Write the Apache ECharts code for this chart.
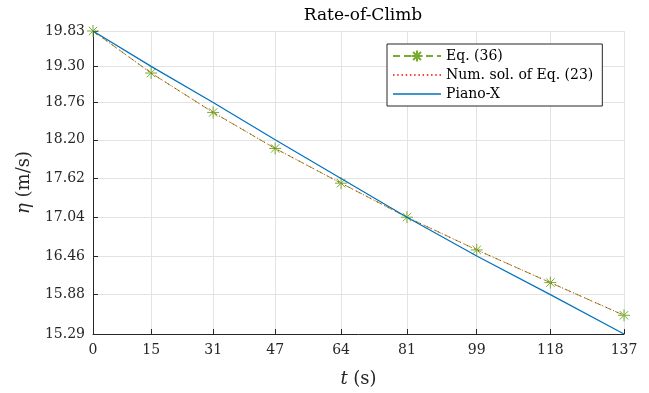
<!DOCTYPE html>
<html>
<head>
<meta charset="utf-8">
<script src="https://cdn.jsdelivr.net/npm/echarts@6/dist/echarts.min.js"></script>
<style>
  html, body { margin: 0; padding: 0; background: #fff; }
  #chart { width: 649px; height: 393px; }
</style>
</head>
<body>
<div id="chart"></div>
<script>
// time samples (s), also used as x ticks
const times = [0, 15, 31, 47, 64, 81, 99, 118, 137];
// y ticks (m/s)
const yTicks = [15.29, 15.88, 16.46, 17.04, 17.62, 18.20, 18.76, 19.30, 19.83];
// Eq. (36)
const eq36 = [19.83, 19.20, 18.61, 18.07, 17.55, 17.04, 16.55, 16.06, 15.57];
// numerical solution of Eq. (23)
const numSol = [19.83, 19.20, 18.61, 18.07, 17.55, 17.04, 16.55, 16.06, 15.57];
// Piano-X
const pianoX = [19.83, 19.30, 18.76, 18.20, 17.62, 17.04, 16.46, 15.88, 15.29];

const pairs = (ys) => times.map((t, i) => [t, ys[i]]);

// asterisk marker like matlab's '*'
const star = "path://M0,-10 L0,10 M-10,0 L10,0 M-7,-7 L7,7 M-7,7 L7,-7";
// legend icons drawn as thin filled paths (aspect kept)
let dots = "";
for (let x = 0; x < 48; x += 4) dots += `M${x},0h1.4v1.4h-1.4z `;
const dotIcon = "path://" + dots;
const solidIcon = "path://M0,0h48v1.3h-48z";
const serif = "DejaVu Serif";
const italic = { fontFamily: serif, fontStyle: "italic", fontSize: 18, color: "#262626" };

const chart = echarts.init(document.getElementById("chart"));

chart.setOption({
  animation: false,
  backgroundColor: "#fff",
  textStyle: { fontFamily: serif },
  title: {
    text: "Rate-of-Climb",
    left: 358,
    textAlign: "center",
    top: 2,
    textStyle: { fontFamily: serif, fontSize: 17, fontWeight: "normal", color: "#000" }
  },
  grid: { left: 93, right: 25, top: 31, bottom: 57 },
  legend: {
    orient: "vertical",
    left: 387,
    top: 44,
    padding: [5, 9, 5, 5],
    itemGap: 5,
    itemWidth: 48,
    itemHeight: 14,
    symbolKeepAspect: true,
    borderColor: "#262626",
    borderWidth: 1,
    borderRadius: 0,
    backgroundColor: "#fff",
    textStyle: { fontFamily: serif, fontSize: 14, color: "#000" },
    data: [
      { name: "Eq. (36)" },
      { name: "Num. sol. of Eq. (23)", icon: dotIcon, itemStyle: { color: "#FF0000" } },
      { name: "Piano-X", icon: solidIcon, itemStyle: { color: "#0072BD" } }
    ]
  },
  xAxis: {
    type: "value",
    min: 0,
    max: 137,
    name: "{i|t} (s)",
    nameLocation: "middle",
    nameGap: 36,
    nameTextStyle: { fontFamily: serif, fontSize: 18, color: "#262626", rich: { i: italic } },
    axisLine: { show: true, lineStyle: { color: "#262626", width: 1 } },
    axisTick: { show: true, inside: true, length: 5, customValues: times, lineStyle: { color: "#262626" } },
    axisLabel: { customValues: times, color: "#262626", fontSize: 14, fontFamily: serif, margin: 9 },
    splitLine: { show: true, lineStyle: { color: "#e3e3e3", width: 1 } }
  },
  yAxis: {
    type: "value",
    min: 15.29,
    max: 19.83,
    name: "{i|η} (m/s)",
    nameLocation: "middle",
    nameGap: 60,
    nameRotate: 90,
    nameTextStyle: { fontFamily: serif, fontSize: 18, color: "#262626", rich: { i: italic } },
    axisLine: { show: true, lineStyle: { color: "#262626", width: 1 } },
    axisTick: { show: true, inside: true, length: 5, customValues: yTicks, lineStyle: { color: "#262626" } },
    axisLabel: {
      customValues: yTicks,
      color: "#262626",
      fontSize: 14,
      fontFamily: serif,
      margin: 8,
      formatter: (v) => v.toFixed(2)
    },
    splitLine: { show: true, lineStyle: { color: "#e3e3e3", width: 1 } }
  },
  series: [
    {
      name: "Eq. (36)",
      type: "line",
      data: pairs(eq36),
      symbol: star,
      symbolSize: 12,
      itemStyle: { color: "#77AC30", borderColor: "#77AC30", borderWidth: 1 },
      lineStyle: { color: "#77AC30", width: 1, type: [7, 4] },
      z: 2
    },
    {
      name: "Num. sol. of Eq. (23)",
      type: "line",
      data: pairs(numSol),
      symbol: "none",
      itemStyle: { color: "#FF0000" },
      lineStyle: { color: "#FF0000", width: 1, type: [1, 3] },
      z: 3
    },
    {
      name: "Piano-X",
      type: "line",
      data: pairs(pianoX),
      symbol: "none",
      itemStyle: { color: "#0072BD" },
      lineStyle: { color: "#0072BD", width: 1.2 },
      z: 4
    }
  ]
});
</script>
</body>
</html>
